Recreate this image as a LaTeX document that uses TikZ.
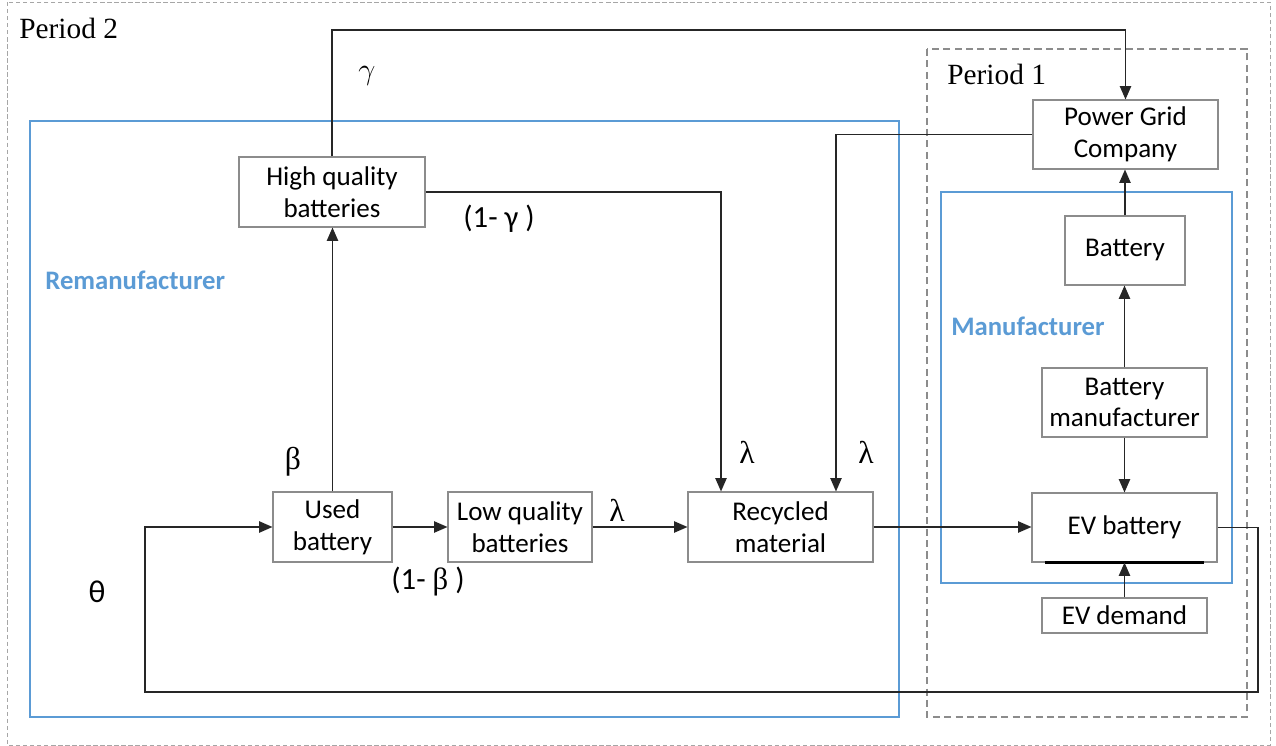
\documentclass[tikz,border=0pt]{standalone}
\usepackage{fontspec}
\setmainfont{Carlito}
\newfontfamily\timesfont{Liberation Serif}
\usetikzlibrary{positioning,arrows.meta}
\definecolor{roleblue}{HTML}{5B9BD5}
\definecolor{boxgray}{HTML}{8C8C8C}
\tikzset{
    block/.style={draw=boxgray, line width=0.6pt, fill=white, align=center, inner sep=0pt, font=\fontsize{15.4}{18.1}\selectfont},
    flow/.style={draw=black!85, line width=0.85pt, -{Triangle[length=7.6pt, width=6.4pt]}},
    coef/.style={font=\timesfont\fontsize{18}{20}\selectfont, inner sep=0pt},
    factor/.style={font=\fontsize{17.5}{20}\selectfont, inner sep=0pt},
    role/.style={font=\bfseries\fontsize{15.2}{18}\selectfont, text=roleblue, inner sep=0pt},
    period/.style={font=\timesfont\fontsize{16.7}{20}\selectfont, inner sep=0pt}
}

\begin{document}
\begin{tikzpicture}[x=0.02cm, y=-0.02cm]
    \useasboundingbox (0,0) rectangle (1276,746);

    % Rahmen
    \draw[gray!70, line width=0.5pt, dash pattern=on 2.5pt off 1.5pt] (7,2) rectangle (1270,745);
    \draw[gray!90, line width=0.6pt, dash pattern=on 4pt off 2.5pt] (927,49) rectangle (1247,717);
    \draw[roleblue, line width=0.8pt] (30,121) rectangle (899,717);
    \draw[roleblue, line width=0.8pt] (941,192) rectangle (1232,583);

    \node[period, anchor=west] (p2) at (19,28) {Period 2};
    \node[period, anchor=west] (p1) at (947,74) {Period 1};
    \node[role, anchor=west] (reman) at (45,280) {Remanufacturer};
    \node[role, anchor=west] (manu) at (951,326) {Manufacturer};

    % Knoten
    \node[block, minimum width=3.72cm, minimum height=1.4cm] (hq) at (332,192) {High quality\\batteries};
    \node[block, minimum width=2.38cm, minimum height=1.4cm] (used) at (332.5,527) {Used\\battery};
    \node[block, minimum width=2.88cm, minimum height=1.4cm] (lq) at (520,527) {Low quality\\batteries};
    \node[block, minimum width=3.7cm, minimum height=1.4cm] (rec) at (780.5,527) {Recycled\\material};
    \node[block, minimum width=3.7cm, minimum height=1.38cm] (pgc) at (1125.5,134.5) {Power Grid\\Company};
    \node[block, minimum width=2.4cm, minimum height=1.38cm] (bat) at (1125,250.5) {Battery};
    \node[block, minimum width=3.3cm, minimum height=1.38cm] (bm) at (1124.5,402.5) {Battery\\manufacturer};
    \node[block, minimum width=3.7cm, minimum height=1.38cm] (evb) at (1124.5,527.5) {EV battery};
    \node[block, minimum width=3.3cm, minimum height=0.7cm] (evd) at (1124.5,615.5) {EV demand};
    \draw[line width=1.3pt] ([xshift=0.28cm]evb.south west) -- ([xshift=-0.28cm]evb.south east);

    % Flüsse
    \coordinate (topline) at (0,30);
    \coordinate (loopR) at (1258,692);
    \coordinate (loopL) at (145,692);
    \draw[flow] (hq.north) -- (hq.north |- topline) -| (pgc.north);
    \draw[flow] (hq.east) -| ([xshift=-1.19cm]rec.north);
    \draw[flow] (pgc.west) -| ([xshift=1.11cm]rec.north);
    \draw[flow] (used.north) -- (used.north |- hq.south);
    \draw[flow] (used.east) -- (lq.west);
    \draw[flow] (lq.east) -- (rec.west);
    \draw[flow] (rec.east) -- (rec.east -| evb.west);
    \draw[flow] (bm.north) -- (bm.north |- bat.south);
    \draw[flow] (bat.north) -- (bat.north |- pgc.south);
    \draw[flow] (bm.south) -- (bm.south |- evb.north);
    \draw[flow] (evd.north) -- (evd.north |- evb.south);
    \draw[flow, line width=1pt] (evb.east) -| (loopR) -- (loopL) |- (used.west);

    % Anteile
    \node[coef] (g1) at (367,76) {$\gamma$};
    \node[factor] (g2) at (499,219) {(1- γ )};
    \node[coef] (l1) at (747,452) {λ};
    \node[coef] (l2) at (866,452) {λ};
    \node[coef] (l3) at (617,510) {λ};
    \node[coef] (b1) at (293,462) {β};
    \node[factor] (b2) at (428,582) {(1- {\timesfont β} )};
    \node[factor, font=\fontsize{18}{20}\selectfont] (th) at (97,592) {θ};
\end{tikzpicture}
\end{document}
